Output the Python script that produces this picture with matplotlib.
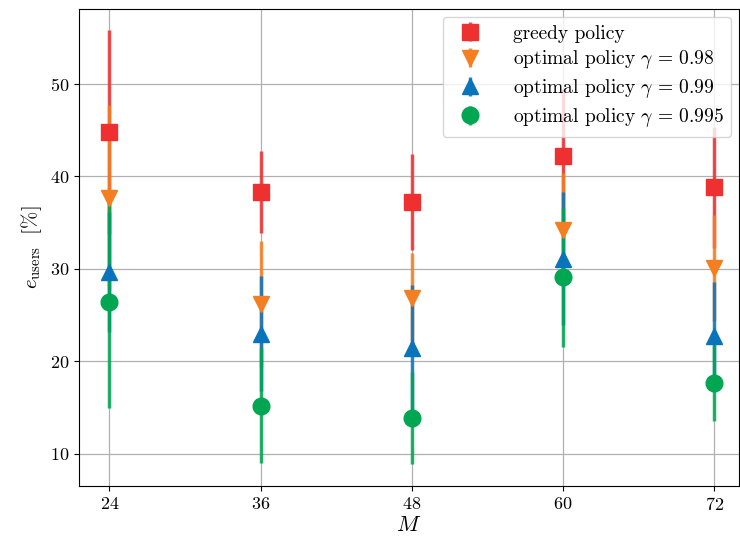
import numpy as np
import matplotlib.pyplot as plt

plt.rcParams['font.family'] = 'serif'
plt.rcParams['font.serif'] = ['cmr10']
plt.rcParams['mathtext.fontset'] = 'cm'
plt.rcParams['axes.formatter.use_mathtext'] = True

M = [24, 36, 48, 60, 72]

greedy = [44.8, 38.3, 37.2, 42.25, 38.8]
greedy_err = [11.0, 4.4, 5.2, 7.2, 6.5]

opt_098 = [37.7, 26.2, 26.8, 34.2, 30.1]
opt_098_err = [10.0, 6.8, 4.9, 6.2, 5.7]

opt_099 = [29.7, 23.0, 21.4, 31.1, 22.7]
opt_099_err = [6.5, 6.2, 6.8, 7.2, 5.9]

opt_0995 = [26.4, 15.2, 13.85, 29.1, 17.65]
opt_0995_err = [11.4, 6.2, 5.0, 7.5, 4.15]

series = [
    (greedy, greedy_err, 's', '#ee3030', 'greedy policy'),
    (opt_098, opt_098_err, 'v', '#f47f22', r'optimal policy $\gamma\,=\,0.98$'),
    (opt_099, opt_099_err, '^', '#0a74ba', r'optimal policy $\gamma\,=\,0.99$'),
    (opt_0995, opt_0995_err, 'o', '#00a651', r'optimal policy $\gamma\,=\,0.995$'),
]

fig = plt.figure(figsize=(7.4, 5.44), dpi=100)
ax = fig.add_axes([0.107, 0.107, 0.8916, 0.8765])

for y, err, mk, col, lab in series:
    eb = ax.errorbar(M, y, yerr=err, fmt=mk, color=col, markersize=12,
                     elinewidth=2.5, label=lab)
    eb[2][0].set_alpha(0.85)

ax.set_xticks(M)
ax.set_yticks([10, 20, 30, 40, 50])
ax.set_xlim(21.6, 73.95)
ax.set_ylim(6.54, 58.1)
ax.grid(True, color='#b0b0b0', linewidth=0.9)
ax.set_axisbelow(True)
ax.tick_params(labelsize=13)

ax.set_xlabel('$M$', fontsize=16, labelpad=2)
ax.set_ylabel(r'$e_\mathrm{users}\ \ [\%]$', fontsize=15)

ax.legend(loc='upper right', fontsize=14, borderaxespad=0.4, handletextpad=1.2,
          labelspacing=0.3)

fig.savefig('out.png', dpi=100)
